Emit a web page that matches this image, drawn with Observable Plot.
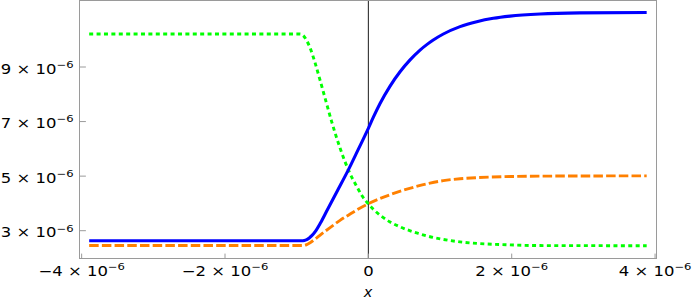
<!DOCTYPE html>
<html><head><meta charset="utf-8">
<script src="https://cdn.jsdelivr.net/npm/d3@7"></script>
<script src="https://cdn.jsdelivr.net/npm/@observablehq/plot@0.6"></script>
<style>html,body{margin:0;padding:0;background:#fff} svg{display:block}</style>
</head><body><div id="chart"></div>
<script>
// values, in units of 10^-6
const blueX = [-3.895, -0.929, -0.894, -0.859, -0.824, -0.789, -0.739, -0.669, -0.579, -0.439, -0.279, -0.139, 0, 0.070, 0.163, 0.303, 0.442, 0.582, 0.721, 0.815, 0.9, 1.046, 1.279, 1.512, 1.743, 1.976, 2.395, 2.95, 3.883];
const blueY = [2.63, 2.63, 2.642, 2.677, 2.736, 2.818, 2.977, 3.28, 3.73, 4.43, 5.23, 5.99, 6.75, 7.16, 7.66, 8.30, 8.825, 9.26, 9.62, 9.82, 9.98, 10.21, 10.48, 10.66, 10.785, 10.865, 10.944, 10.984, 11.0];
const orangeX = [-3.895, -0.911, -0.86, -0.813, -0.720, -0.628, -0.510, -0.395, -0.279, -0.162, 0, 0.163, 0.303, 0.484, 0.697, 0.861, 1.046, 1.279, 1.512, 1.976, 2.395, 3.883];
const orangeY = [2.457, 2.457, 2.49, 2.56, 2.74, 2.93, 3.16, 3.38, 3.57, 3.76, 3.99, 4.18, 4.32, 4.48, 4.64, 4.745, 4.835, 4.905, 4.945, 4.985, 5.00, 5.01];
const greenX = [-3.895, -0.953, -0.911, -0.869, -0.813, -0.743, -0.674, -0.604, -0.510, -0.395, -0.279, -0.162, -0.088, 0, 0.163, 0.303, 0.442, 0.697, 0.815, 1.046, 1.279, 1.512, 1.976, 2.395, 3.883];
const greenY = [10.21, 10.21, 10.16, 10.01, 9.70, 9.15, 8.52, 7.86, 6.98, 6.03, 5.23, 4.62, 4.28, 3.98, 3.57, 3.32, 3.14, 2.90, 2.81, 2.68, 2.59, 2.535, 2.48, 2.455, 2.45];
const xTicks = [-4, -2, 0, 2, 4];
const yTicks = [3, 5, 7, 9];
const xLabel = "x";

const E = 1e-6;
const rows = (xs, ys) => xs.map((x, i) => ({x: x * E, y: ys[i] * E}));
const blue = rows(blueX, blueY), orange = rows(orangeX, orangeY), green = rows(greenX, greenY);

const fmt = d => {
  const m = Math.round(d / E);
  return m === 0 ? "0" : `${m < 0 ? "\u2212" : ""}${Math.abs(m)} \u00d7 10|\u22126`;
};
const tickShape = {draw(ctx, l) { ctx.moveTo(0, 0); ctx.lineTo(0, -l); }};

const chart = Plot.plot({
  width: 692, height: 305,
  marginLeft: 79, marginRight: 36, marginTop: 0, marginBottom: 47,
  style: {fontFamily: "DejaVu Sans", fontSize: "13.5px", color: "black", background: "white"},
  x: {domain: [-4.03 * E, 4.02 * E]},
  y: {domain: [1.981 * E, 11.438 * E]},
  marks: [
    Plot.ruleX([0], {stroke: "#1a1a1a", strokeWidth: 1}),
    Plot.line(orange, {x: "x", y: "y", stroke: "#ff8000", strokeWidth: 2.9, strokeDasharray: "9.5,3.2", strokeLinecap: "butt", curve: "monotone-x"}),
    Plot.line(green, {x: "x", y: "y", stroke: "#00ff00", strokeWidth: 2.9, strokeDasharray: "4,3.4", strokeLinecap: "butt", curve: "monotone-x"}),
    Plot.line(blue, {x: "x", y: "y", stroke: "#0000ff", strokeWidth: 3.1, strokeLinecap: "butt", curve: "monotone-x"}),
    Plot.frame({stroke: "#9a9a9a", strokeWidth: 1}),
    Plot.vector(xTicks.map(d => d * E), {x: d => d, frameAnchor: "bottom", length: 4.5, rotate: 0, anchor: "start", shape: tickShape, stroke: "#9a9a9a", strokeWidth: 1}),
    Plot.vector(yTicks.map(d => d * E), {y: d => d, frameAnchor: "left", length: 6, rotate: 90, anchor: "start", shape: tickShape, stroke: "#9a9a9a", strokeWidth: 1}),
    Plot.axisX({ticks: xTicks.map(d => d * E), tickSize: 0, tickPadding: 7.5, tickFormat: fmt, label: null}),
    Plot.axisY({ticks: yTicks.map(d => d * E), tickSize: 0, tickPadding: 6, tickFormat: fmt, dy: 2.2, label: null}),
    Plot.text([xLabel], {frameAnchor: "bottom", dy: 38, fontStyle: "italic", fontSize: 14.5, fill: "black"})
  ]
});

const ns = "http://www.w3.org/2000/svg";
chart.querySelectorAll('g[aria-label$="tick label"] text').forEach(t => {
  const s = t.textContent;
  t.setAttribute("transform", (t.getAttribute("transform") || "") + " scale(1.22,1)");
  if (s.includes("|")) {
    const [a, b] = s.split("|");
    t.textContent = "";
    const t1 = document.createElementNS(ns, "tspan"); t1.textContent = a;
    const t2 = document.createElementNS(ns, "tspan"); t2.textContent = b;
    t2.setAttribute("font-size", "9.5");
    t2.setAttribute("dy", "-0.6em");
    t.append(t1, t2);
  }
});
document.getElementById("chart").append(chart);
</script>
</body></html>
